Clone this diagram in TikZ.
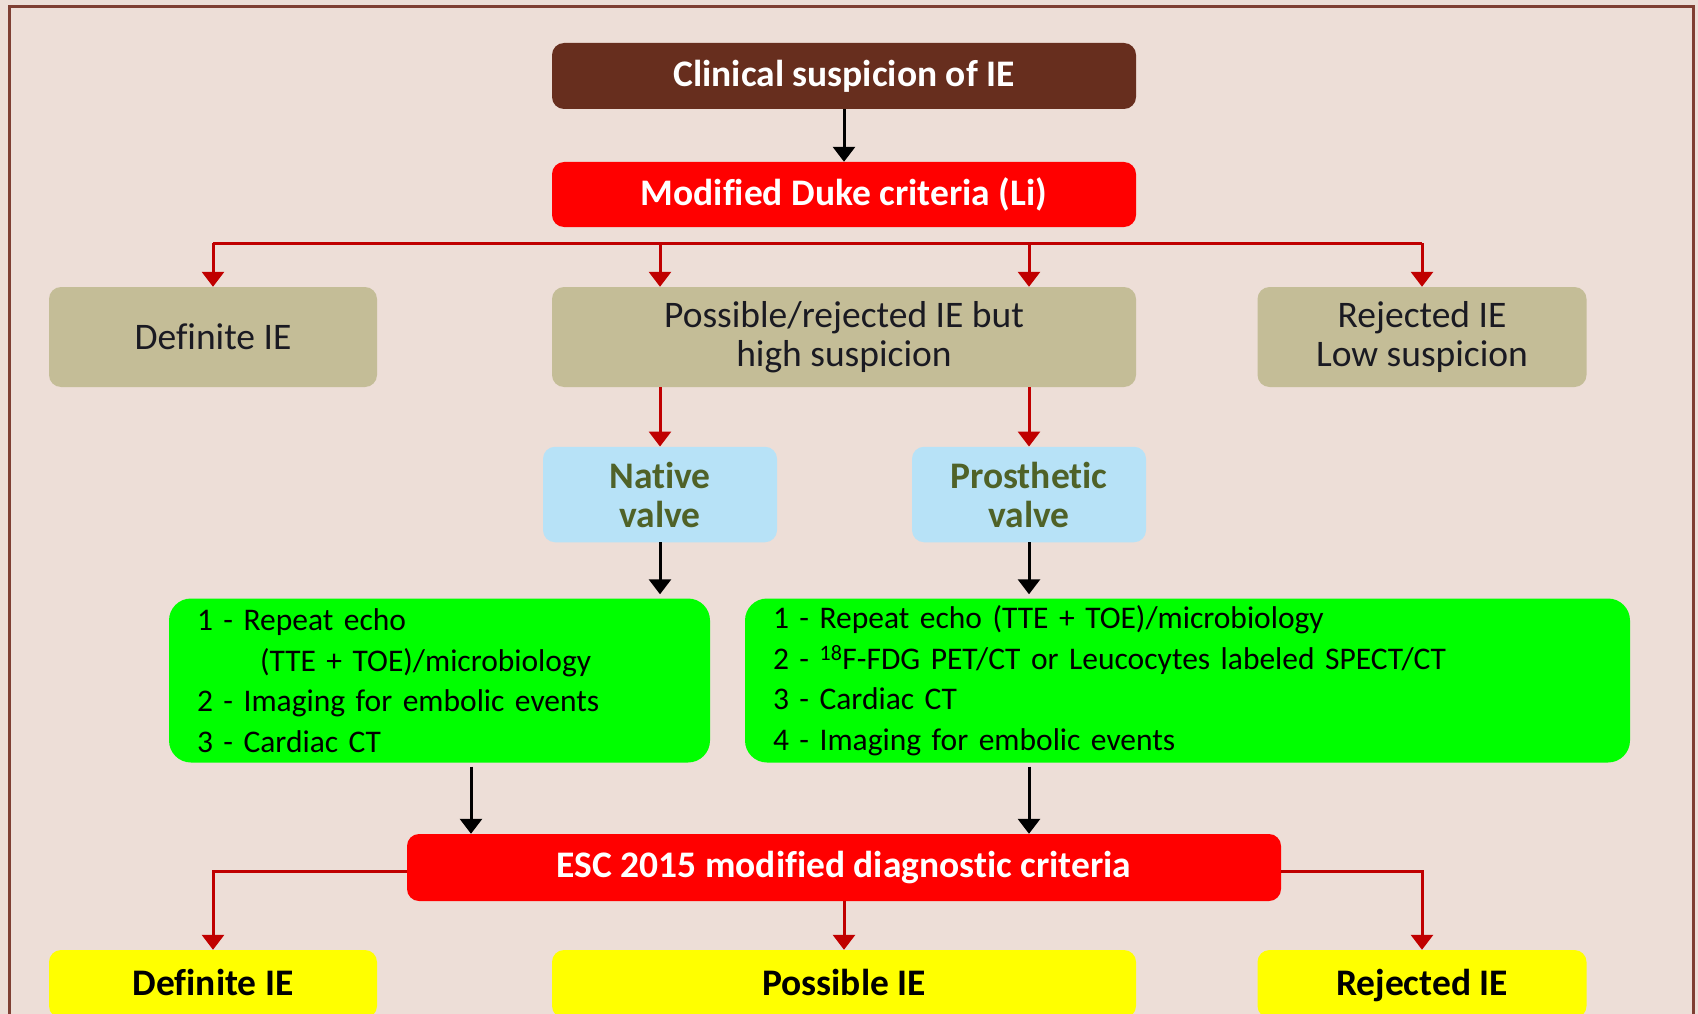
\documentclass[tikz,border=0pt]{standalone}
\usepackage{fontspec}
\setmainfont{Carlito}[Ligatures=NoCommon]
\usetikzlibrary{arrows.meta,calc}
\definecolor{bgc}{HTML}{EDDED7}
\definecolor{framec}{HTML}{7F3F33}
\definecolor{brownc}{HTML}{672E1E}
\definecolor{redc}{HTML}{FF0000}
\definecolor{darkred}{HTML}{C00000}
\definecolor{khaki}{HTML}{C4BD97}
\definecolor{lblue}{HTML}{B7E2F7}
\definecolor{olive}{HTML}{4F6228}
\definecolor{greenc}{HTML}{00FF00}
\definecolor{yellowc}{HTML}{FFFF00}
\definecolor{txt}{HTML}{1A1A22}
\tikzset{
  box/.style={rounded corners=12pt, inner sep=0pt, align=center, text=txt,
    font=\fontsize{37.5}{39}\selectfont},
  boldbox/.style={box, font=\fontsize{37.5}{39}\selectfont\bfseries},
  whitebox/.style={boldbox, text=white},
  yelbox/.style={rounded corners=12pt, inner sep=0pt, fill=yellowc, text=black,
    font=\fontsize{37.5}{39}\selectfont\bfseries, text height=25pt, text depth=2pt},
  greenbox/.style={rounded corners=22pt, fill=greenc, inner ysep=0pt, inner xsep=28pt,
    align=left, text=black, font=\fontsize{31.5}{40.5}\selectfont},
  redarr/.style={draw=darkred, line width=3pt, -{Triangle[width=22pt,length=15pt]}, darkred},
  blkarr/.style={draw=black, line width=3pt, -{Triangle[width=22pt,length=15pt]}},
  redline/.style={draw=darkred, line width=3pt}
}
\begin{document}
\begin{tikzpicture}[x=1pt,y=-1pt]
\useasboundingbox (0,0) rectangle (1698,1014);
\fill[bgc] (0,0) rectangle (1698,1014);
\draw[framec, line width=3pt] (9.5,6.5) rectangle (1693,1060);

% top
\node[whitebox, fill=brownc, minimum width=584pt, minimum height=66pt] (clin) at (844,76) {Clinical suspicion of IE};
\node[whitebox, fill=redc, minimum width=584pt, minimum height=65pt] (duke) at (844,194.5) {Modified Duke criteria (Li)};

% khaki row
\node[box, fill=khaki, minimum width=328pt, minimum height=100pt] (defA) at (213,337) {Definite IE};
\node[box, fill=khaki, minimum width=584pt, minimum height=100pt] (poss) at (844,337) {Possible/rejected IE but\\high suspicion};
\node[box, fill=khaki, minimum width=329pt, minimum height=100pt] (rejA) at (1422,337) {Rejected IE\\Low suspicion};

% valves
\node[boldbox, fill=lblue, text=olive, minimum width=234pt, minimum height=95.5pt] (native) at (660,494.5) {Native\\valve};
\node[boldbox, fill=lblue, text=olive, minimum width=234pt, minimum height=95.5pt] (pros) at (1029,494.5) {Prosthetic\\valve};

% green
\node[greenbox, text width=485pt, minimum height=164pt] (greenL) at (439.5,680.5)
 {1 - Repeat echo\\\hspace*{63pt}(TTE + TOE)/microbiology\\2 - Imaging for embolic events\\3 - Cardiac CT};
\node[greenbox, text width=829pt, minimum height=164pt] (greenR) at (1187.5,680.5)
 {1 - Repeat echo (TTE + TOE)/microbiology\\2 - \textsuperscript{18}F-FDG PET/CT or Leucocytes labeled SPECT/CT\\3 - Cardiac CT\\4 - Imaging for embolic events};

% ESC
\node[whitebox, fill=redc, minimum width=874pt, minimum height=67pt] (esc) at (844,867.5) {ESC 2015 modified diagnostic criteria};

% yellow
\node[yelbox, minimum width=328pt, minimum height=68pt] (defB) at (213,984) {Definite IE};
\node[yelbox, minimum width=584pt, minimum height=68pt] (possB) at (844,984) {Possible IE};
\node[yelbox, minimum width=329pt, minimum height=68pt] (rejB) at (1422,984) {Rejected IE};

% connectors
\draw[blkarr] (clin.south) -- (duke.north);
\coordinate (busL) at (213,243);
\coordinate (busR) at (1422,243);
\draw[redline] (busL) -- (busR);
\draw[redarr] (busL) -- (defA.north);
\draw[redarr] (busL -| native) -- (poss.north -| native);
\draw[redarr] (busL -| pros) -- (poss.north -| pros);
\draw[redarr] (busR) -- (rejA.north);

\draw[redarr] (poss.south -| native) -- (native.north);
\draw[redarr] (poss.south -| pros) -- (pros.north);
\draw[blkarr] (native.south) -- ([yshift=4pt]greenL.north -| native);
\draw[blkarr] (pros.south) -- ([yshift=4pt]greenR.north -| pros);

\draw[blkarr] ([xshift=31.5pt,yshift=-4pt]greenL.south) -- ([xshift=31.5pt]greenL.south |- esc.north);
\draw[blkarr] ([yshift=-4pt]greenR.south -| pros) -- (esc.north -| pros);

\draw[redarr] ([yshift=-4pt]esc.west) -| (defB.north);
\draw[redarr] (esc.south) -- (possB.north);
\draw[redarr] ([yshift=-4pt]esc.east) -| (rejB.north);
\end{tikzpicture}
\end{document}
